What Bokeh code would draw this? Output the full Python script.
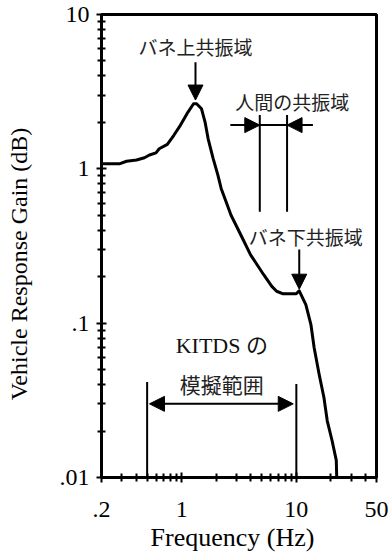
import numpy as np
from bokeh.plotting import figure
from bokeh.models import Range1d, FixedTicker, CustomJSTickFormatter, Arrow, NormalHead
from bokeh.core.properties import value
from bokeh.embed import file_html
from bokeh.resources import INLINE

# ---- data ----
freq = [0.2, 0.29, 0.331, 0.404, 0.474, 0.524, 0.597, 0.637, 0.75, 0.855,
        0.977, 1.11, 1.27, 1.35, 1.49, 1.60, 1.70, 1.88, 2.07, 2.21,
        2.44, 2.69, 3.07, 3.50, 3.99, 4.55, 5.19, 6.11, 6.73, 7.67,
        9.98, 10.6, 12.1, 13.4, 14.3, 15.8, 17.4, 18.6, 20.5, 22.3, 22.5]
gain = [1.08, 1.08, 1.12, 1.14, 1.18, 1.23, 1.27, 1.35, 1.44, 1.65,
        1.92, 2.27, 2.64, 2.64, 2.45, 2.01, 1.57, 1.17, 0.91, 0.746,
        0.612, 0.502, 0.412, 0.338, 0.277, 0.239, 0.206, 0.173, 0.161, 0.155,
        0.155, 0.162, 0.132, 0.098, 0.0693, 0.0467, 0.033, 0.0233, 0.0173, 0.0129, 0.01]

x_major = [0.2, 1, 10, 50]
x_minor = [0.3, 0.4, 0.5, 0.6, 0.7, 0.8, 0.9, 2, 3, 4, 5, 6, 7, 8, 9, 20, 30, 40]
y_major = [0.01, 0.1, 1, 10]
y_minor = [0.02, 0.03, 0.04, 0.05, 0.06, 0.07, 0.08, 0.09,
           0.2, 0.3, 0.4, 0.5, 0.6, 0.7, 0.8, 0.9,
           2, 3, 4, 5, 6, 7, 8, 9]

# annotation values
peak_freq = 1.32          # バネ上共振域
lower_freq = 10.6         # バネ下共振域
human_band = [4.8, 8.3]   # 人間の共振域
kitds_band = [0.5, 10]    # KITDS の模擬範囲

SERIF = "Liberation Serif"
CJK = "Noto Sans CJK JP"
MIX = "Liberation Serif, Noto Sans CJK JP"
NB = "\u00a0"

p = figure(x_axis_type="log", y_axis_type="log",
           x_range=Range1d(0.2, 50), y_range=Range1d(0.01, 10),
           width=388, height=556,
           min_border_left=101, min_border_right=12, min_border_top=14, min_border_bottom=79,
           output_backend="svg", toolbar_location=None,
           background_fill_color="white", border_fill_color="white")

p.grid.visible = False
p.outline_line_color = "black"
p.outline_line_width = 3

fmt = CustomJSTickFormatter(code="""
const s = tick.toString();
return s.startsWith('0.') ? s.slice(1) : s;
""")

for ax, maj, mnr in ((p.xaxis[0], x_major, x_minor), (p.yaxis[0], y_major, y_minor)):
    ax.ticker = FixedTicker(ticks=maj, minor_ticks=mnr)
    ax.formatter = fmt
    ax.axis_line_width = 3
    ax.axis_line_color = "black"
    ax.major_tick_in = 5
    ax.major_tick_out = 5
    ax.minor_tick_in = 4
    ax.minor_tick_out = 4
    ax.major_tick_line_width = 2
    ax.minor_tick_line_width = 2
    ax.major_tick_line_color = "black"
    ax.minor_tick_line_color = "black"
    ax.major_label_text_font = SERIF
    ax.major_label_text_font_size = "24px"
    ax.major_label_text_color = "black"
    ax.axis_label_text_font = SERIF
    ax.axis_label_text_font_style = "normal"
    ax.axis_label_text_color = "black"

p.yaxis[0].major_label_standoff = 7
p.xaxis[0].major_label_standoff = 19

# trailing no-break spaces nudge the visible titles to where the reference has them
p.yaxis[0].axis_label = "Vehicle Response Gain (dB)" + NB * 6
p.yaxis[0].axis_label_text_font_size = "24px"
p.yaxis[0].axis_label_standoff = 25
p.xaxis[0].axis_label = "Frequency (Hz)" + NB * 2
p.xaxis[0].axis_label_text_font_size = "26px"
p.xaxis[0].axis_label_standoff = 3

# curve
p.line(freq, gain, line_width=3, line_color="black", line_join="round")

# vertical range lines
p.segment(x0=kitds_band, y0=[0.01, 0.01], x1=kitds_band, y1=[0.0416, 0.0403],
          line_width=2, line_color="black")
p.segment(x0=human_band, y0=[0.528, 0.528], x1=human_band, y1=[2.23, 2.23],
          line_width=2, line_color="black")
p.segment(x0=[2.67], y0=[1.92], x1=[13.9], y1=[1.92], line_width=2, line_color="black")

def head():
    return NormalHead(size=15, fill_color="black", line_color="black", line_width=1)

p.add_layout(Arrow(end=head(), x_start=peak_freq, y_start=4.9, x_end=peak_freq, y_end=2.79,
                   line_width=2, line_color="black"))
p.add_layout(Arrow(end=head(), x_start=lower_freq, y_start=0.30, x_end=lower_freq, y_end=0.166,
                   line_width=2, line_color="black"))
p.add_layout(Arrow(end=head(), x_start=2.67, y_start=1.92, x_end=human_band[0], y_end=1.92,
                   line_width=2, line_color="black"))
p.add_layout(Arrow(end=head(), x_start=13.9, y_start=1.92, x_end=human_band[1], y_end=1.92,
                   line_width=2, line_color="black"))
p.add_layout(Arrow(start=head(), end=head(), x_start=0.524, y_start=0.030, x_end=9.4, y_end=0.030,
                   line_width=2, line_color="black"))

# texts
p.text(x=[peak_freq], y=[6.2], text=["バネ上共振域"], text_font=value(CJK),
       text_font_size="19px", text_align="center", text_baseline="middle", text_color="#222222")
p.text(x=[9.23], y=[2.73], text=["人間の共振域"], text_font=value(CJK),
       text_font_size="19px", text_align="center", text_baseline="middle", text_color="#222222")
p.text(x=[12.1], y=[0.364], text=["バネ下共振域"], text_font=value(CJK),
       text_font_size="19px", text_align="center", text_baseline="middle", text_color="#222222")
p.text(x=[2.24], y=[0.0716], text=["KITDS の"], text_font=value(MIX),
       text_font_size="22px", text_align="center", text_baseline="middle", text_color="#111111")
p.text(x=[2.24], y=[0.0406], text=["模擬範囲"], text_font=value(CJK),
       text_font_size="21px", text_align="center", text_baseline="middle", text_color="#222222")

open("out.html", "w").write(file_html(p, INLINE))
